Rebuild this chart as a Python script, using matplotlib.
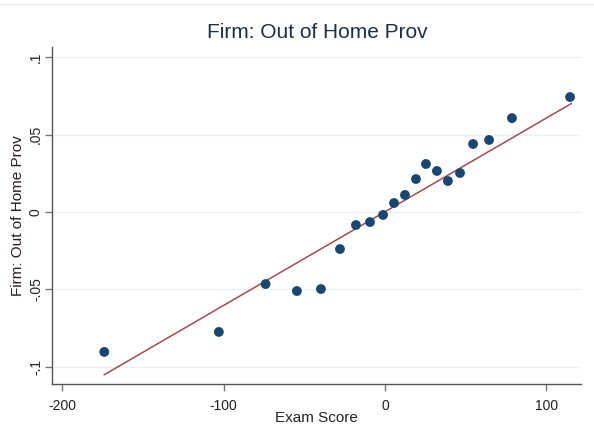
import matplotlib
matplotlib.use("Agg")
import matplotlib.pyplot as plt
from matplotlib.lines import Line2D

plt.rcParams['font.family'] = ['Liberation Sans', 'DejaVu Sans']

# binned means
exam_score = [-174, -103, -74, -54.6, -39.7, -27.9, -18, -9.3, -1.2, 5.6,
              12.4, 19.2, 25.4, 32.2, 39, 46.5, 54.6, 64.5, 78.7, 114.7]
out_of_home = [-0.0903, -0.0774, -0.0465, -0.0510, -0.0497, -0.0239, -0.0084,
               -0.0065, -0.0019, 0.0058, 0.0110, 0.0213, 0.0310, 0.0265,
               0.0200, 0.0252, 0.0439, 0.0465, 0.0606, 0.0742]

# linear fit end points
fit_x = [-174, 115.5]
fit_y = [-0.105, 0.070]

xticks = [-200, -100, 0, 100]
xticklabels = ['-200', '-100', '0', '100']
yticks = [-0.1, -0.05, 0, 0.05, 0.1]
yticklabels = ['-.1', '-.05', '0', '.05', '.1']

navy = '#1a476f'
maroon = '#a44a4f'

fig = plt.figure(figsize=(5.94, 4.43), dpi=100)
ax = fig.add_axes([52/594, 1 - 384/443, (581 - 52)/594, (384 - 47)/443])

ax.plot(fit_x, fit_y, color=maroon, lw=1.1, zorder=2)
ax.scatter(exam_score, out_of_home, s=50, color=navy, edgecolors='none', zorder=3)

ax.set_xlim(-206.4, 121.5)
ax.set_ylim(-0.111, 0.1065)
ax.set_xticks(xticks)
ax.set_xticklabels(xticklabels)
ax.set_yticks(yticks)
ax.set_yticklabels(yticklabels, rotation=90, va='center')

ax.grid(axis='y', color='#e9f0f1', lw=1)
ax.set_axisbelow(True)
for s in ['top', 'right']:
    ax.spines[s].set_visible(False)
for s in ['left', 'bottom']:
    ax.spines[s].set_color('#555555')
    ax.spines[s].set_linewidth(1)
ax.tick_params(direction='out', length=5, width=1, color='#777777',
               labelsize=10, labelcolor='#222222')
ax.tick_params(axis='x', pad=5.5)
ax.tick_params(axis='y', pad=1.5)

ax.set_xlabel('Exam Score', fontsize=11, color='#222222', va='center')
ax.xaxis.set_label_coords(0.5, (384 - 418) / 337)
ax.set_ylabel('Firm: Out of Home Prov', fontsize=11, color='#2a1a22', va='center')
ax.yaxis.set_label_coords((18 - 52) / 529, 0.5)

fig.text(317/594, 1 - 33/443, 'Firm: Out of Home Prov', fontsize=15,
         color='#1c2e4a', ha='center', va='center')

fig.add_artist(Line2D([0, 1], [1 - 4/443, 1 - 4/443], color='#e6ecef', lw=1))

fig.savefig('out.png', dpi=100, facecolor='white')
